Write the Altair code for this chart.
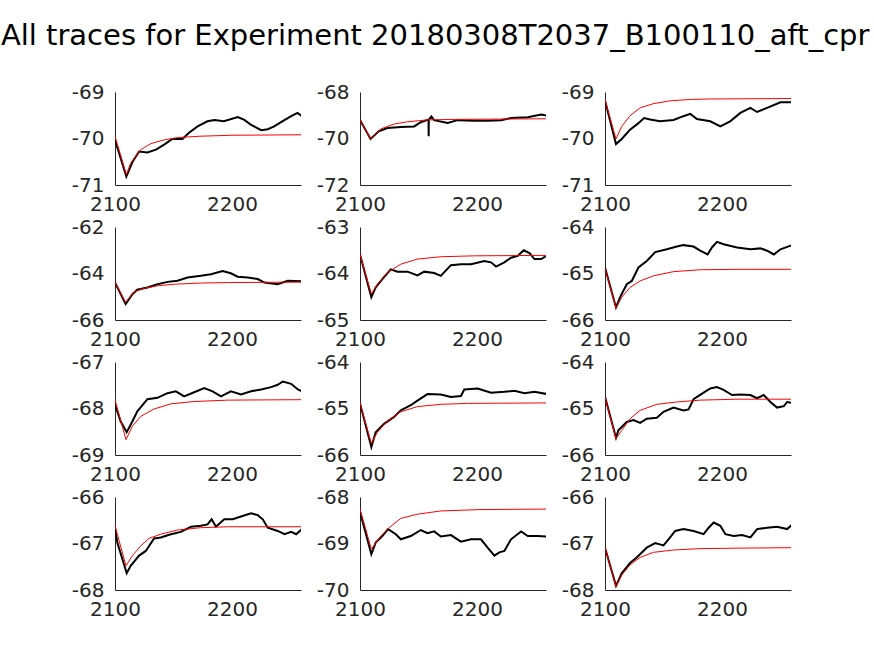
import altair as alt
import pandas as pd

TITLE = "All traces for Experiment 20180308T2037_B100110_aft_cpr"

# ---------- panel 1 (row 1, col 1) ----------
t1 = [2100, 2109.7, 2115, 2120.6, 2127.7, 2135, 2142, 2149, 2157.7, 2163, 2170.6, 2179, 2185, 2193, 2205, 2210.6, 2216, 2225, 2230.6, 2236, 2243, 2250.6, 2256, 2259.7]
v1 = [-70.03, -70.82, -70.5, -70.28, -70.3, -70.24, -70.13, -70.01, -70.01, -69.88, -69.74, -69.63, -69.6, -69.63, -69.54, -69.6, -69.7, -69.82, -69.8, -69.74, -69.63, -69.52, -69.45, -69.52]
ft1 = [2100, 2109.7, 2113.4, 2122, 2130.6, 2142, 2153.4, 2173.4, 2200, 2260]
fv1 = [-69.95, -70.78, -70.53, -70.24, -70.11, -70.03, -69.98, -69.95, -69.93, -69.92]

# ---------- panel 2 (row 1, col 2) ----------
t2 = [2100, 2109, 2116, 2123.4, 2134.9, 2146.3, 2152, 2157.7, 2158.6, 2158.7, 2158.8, 2161, 2163.4, 2174.9, 2183.4, 2197.7, 2209, 2220.6, 2229, 2243.4, 2254.9, 2260]
v2 = [-69.2, -70.02, -69.69, -69.55, -69.51, -69.48, -69.3, -69.2, -69.2, -69.9, -69.2, -69.05, -69.21, -69.33, -69.21, -69.24, -69.24, -69.21, -69.12, -69.09, -68.97, -69.02]
ft2 = [2100, 2109, 2117.7, 2129, 2140.6, 2157.7, 2177.7, 2260]
fv2 = [-69.2, -70.02, -69.59, -69.38, -69.28, -69.2, -69.18, -69.15]

# ---------- panel 3 (row 1, col 3) ----------
t3 = [2100, 2109.4, 2114.3, 2121.4, 2128.6, 2133.4, 2138.6, 2147, 2158.6, 2167, 2172.9, 2178.6, 2190, 2198.6, 2207, 2215.7, 2224.3, 2230, 2238.6, 2250, 2260]
v3 = [-69.18, -70.12, -70.01, -69.81, -69.67, -69.56, -69.59, -69.63, -69.6, -69.52, -69.47, -69.58, -69.63, -69.74, -69.63, -69.45, -69.34, -69.43, -69.34, -69.22, -69.22]
ft3 = [2100, 2109.4, 2114.3, 2121.4, 2130, 2141.4, 2155.7, 2172.9, 2190, 2260]
fv3 = [-69.17, -70.01, -69.74, -69.51, -69.34, -69.25, -69.19, -69.16, -69.15, -69.14]

# ---------- panel 4 (row 2, col 1) ----------
t4 = [2100, 2109.1, 2114.9, 2119, 2127.7, 2136.3, 2144.9, 2153.4, 2162, 2173.4, 2182, 2192, 2199, 2204.9, 2213.4, 2222, 2227.7, 2239, 2247.7, 2259.7]
v4 = [-64.39, -65.31, -64.89, -64.7, -64.6, -64.46, -64.36, -64.31, -64.17, -64.1, -64.03, -63.89, -63.99, -64.14, -64.17, -64.24, -64.39, -64.46, -64.31, -64.34]
ft4 = [2100, 2109.1, 2116.3, 2124.9, 2136.3, 2150.6, 2173.4, 2196.3, 2260]
fv4 = [-64.39, -65.24, -64.79, -64.64, -64.53, -64.46, -64.41, -64.39, -64.37]

# ---------- panel 5 (row 2, col 2) ----------
t5 = [2100, 2109.7, 2113.4, 2119.1, 2126.3, 2132, 2140.6, 2149.1, 2154.9, 2163.4, 2169.1, 2177.7, 2186.3, 2194.9, 2206.3, 2212, 2216.3, 2223.4, 2229.1, 2234.9, 2240, 2244.9, 2249.1, 2254.9, 2260]
v5 = [-63.59, -64.51, -64.3, -64.12, -63.91, -63.96, -63.96, -64.04, -63.96, -63.99, -64.05, -63.82, -63.8, -63.8, -63.73, -63.76, -63.85, -63.76, -63.66, -63.62, -63.5, -63.56, -63.69, -63.69, -63.61]
ft5 = [2100, 2109.7, 2114.9, 2123.4, 2134.9, 2149.1, 2169.1, 2197.7, 2260]
fv5 = [-63.59, -64.44, -64.23, -63.98, -63.8, -63.69, -63.64, -63.62, -63.61]

# ---------- panel 6 (row 2, col 3) ----------
t6 = [2100, 2109.4, 2112.9, 2118.6, 2122.9, 2128.6, 2135.7, 2142.9, 2152.9, 2161.4, 2167.1, 2175.7, 2181.4, 2187.7, 2191.4, 2195.7, 2201.4, 2212.9, 2224.3, 2232.9, 2238.6, 2244.3, 2250, 2260]
v6 = [-64.87, -65.73, -65.51, -65.23, -65.16, -64.87, -64.73, -64.54, -64.48, -64.42, -64.39, -64.42, -64.51, -64.59, -64.44, -64.32, -64.37, -64.44, -64.48, -64.46, -64.51, -64.59, -64.48, -64.39]
ft6 = [2100, 2109.4, 2114.3, 2121.4, 2130, 2141.4, 2158.6, 2181.4, 2212.9, 2260]
fv6 = [-64.89, -65.75, -65.51, -65.3, -65.16, -65.05, -64.96, -64.92, -64.91, -64.91]

# ---------- panel 7 (row 3, col 1) ----------
t7 = [2100, 2104.9, 2110, 2113.4, 2119.1, 2127.7, 2136.3, 2144.9, 2152, 2159.1, 2167.7, 2176.3, 2183.4, 2190.6, 2199.1, 2207.7, 2216.3, 2224.9, 2233.4, 2239.1, 2243.4, 2250.6, 2256.3, 2259.7]
v7 = [-67.92, -68.28, -68.51, -68.35, -68.06, -67.8, -67.77, -67.67, -67.63, -67.74, -67.65, -67.56, -67.63, -67.74, -67.63, -67.7, -67.63, -67.59, -67.54, -67.49, -67.42, -67.47, -67.59, -67.63]
ft7 = [2100, 2109.4, 2114.9, 2122, 2133.4, 2147.7, 2167.7, 2196.3, 2260]
fv7 = [-67.81, -68.67, -68.38, -68.17, -68.01, -67.9, -67.85, -67.82, -67.81]

# ---------- panel 8 (row 3, col 2) ----------
t8 = [2100, 2109.7, 2113.4, 2120.6, 2129.1, 2134.9, 2143.4, 2149.1, 2157.7, 2169.1, 2177.7, 2186.3, 2189.1, 2200.6, 2212, 2223.4, 2232, 2240.6, 2249.1, 2260]
v8 = [-64.89, -65.83, -65.51, -65.33, -65.18, -65.04, -64.93, -64.83, -64.69, -64.7, -64.75, -64.73, -64.59, -64.57, -64.66, -64.64, -64.62, -64.67, -64.64, -64.69]
ft8 = [2100, 2109.7, 2114.9, 2123.4, 2134.9, 2149.1, 2169.1, 2192, 2260]
fv8 = [-64.88, -65.75, -65.51, -65.27, -65.07, -64.96, -64.91, -64.89, -64.88]

# ---------- panel 9 (row 3, col 3) ----------
t9 = [2100, 2109.4, 2111.4, 2118.6, 2124.3, 2130, 2135.7, 2144.3, 2150, 2158.6, 2167.1, 2171.4, 2175.7, 2184.3, 2190, 2195.7, 2201.4, 2208.6, 2215.7, 2224.3, 2230, 2235.7, 2241.4, 2247.1, 2252.9, 2255.7, 2260]
v9 = [-64.75, -65.63, -65.47, -65.29, -65.25, -65.31, -65.22, -65.2, -65.07, -64.98, -65.04, -65.02, -64.8, -64.66, -64.57, -64.54, -64.6, -64.71, -64.7, -64.71, -64.78, -64.71, -64.86, -64.98, -64.95, -64.86, -64.88]
ft9 = [2100, 2109.4, 2114.3, 2121.4, 2130, 2144.3, 2161.4, 2181.4, 2212.9, 2260]
fv9 = [-64.76, -65.65, -65.47, -65.22, -65.04, -64.91, -64.86, -64.82, -64.8, -64.8]

# ---------- panel 10 (row 4, col 1) ----------
t10 = [2100, 2102, 2110, 2113.4, 2120.6, 2126.3, 2133.4, 2139.1, 2147.7, 2156.3, 2164.9, 2173.4, 2179.1, 2182.6, 2186.3, 2193.4, 2200.6, 2207.7, 2216.3, 2222, 2226.3, 2230.6, 2239.1, 2244.9, 2250.6, 2254.9, 2259.7]
v10 = [-66.66, -66.98, -67.64, -67.48, -67.26, -67.16, -66.89, -66.87, -66.8, -66.75, -66.64, -66.62, -66.59, -66.48, -66.64, -66.48, -66.48, -66.42, -66.35, -66.39, -66.48, -66.66, -66.73, -66.8, -66.75, -66.8, -66.69]
ft10 = [2100, 2109.4, 2114.9, 2122, 2129.1, 2139.1, 2153.4, 2173.4, 2196.3, 2260]
fv10 = [-66.62, -67.48, -67.26, -67.05, -66.89, -66.8, -66.71, -66.66, -66.64, -66.64]

# ---------- panel 11 (row 4, col 2) ----------
t11 = [2100, 2109.7, 2113.4, 2119.1, 2124, 2130.6, 2134.9, 2143.4, 2152, 2157.7, 2163.4, 2169.1, 2177.7, 2186.3, 2194.9, 2203.4, 2209.1, 2214.9, 2219.1, 2223.4, 2229.1, 2237.7, 2243.4, 2252, 2260]
v11 = [-68.32, -69.23, -68.98, -68.84, -68.69, -68.8, -68.91, -68.84, -68.71, -68.78, -68.74, -68.85, -68.82, -68.96, -68.91, -68.91, -69.09, -69.26, -69.19, -69.16, -68.91, -68.74, -68.84, -68.84, -68.85]
ft11 = [2100, 2109.7, 2117.7, 2124.9, 2134.9, 2149.1, 2169.1, 2203.4, 2260]
fv11 = [-68.26, -69.12, -68.84, -68.66, -68.46, -68.37, -68.3, -68.27, -68.26]

# ---------- panel 12 (row 4, col 3) ----------
t12 = [2100, 2109.4, 2114.3, 2121.4, 2127.1, 2135.7, 2142.9, 2150, 2154.3, 2160, 2167.1, 2175.7, 2184.3, 2188.6, 2192.9, 2198.6, 2202.9, 2210, 2217.1, 2224.3, 2230, 2238.6, 2247.1, 2255.7, 2260]
v12 = [-67.09, -67.91, -67.64, -67.42, -67.3, -67.09, -66.99, -67.04, -66.91, -66.73, -66.69, -66.73, -66.8, -66.66, -66.55, -66.62, -66.8, -66.84, -66.82, -66.87, -66.69, -66.66, -66.64, -66.69, -66.59]
ft12 = [2100, 2109.4, 2114.3, 2121.4, 2130, 2141.4, 2158.6, 2181.4, 2212.9, 2260]
fv12 = [-67.09, -67.93, -67.68, -67.46, -67.3, -67.19, -67.14, -67.11, -67.1, -67.09]

# y-axis ranges (bottom, top) per panel
y_ranges = [(-71, -69), (-72, -68), (-71, -69),
            (-66, -62), (-65, -63), (-66, -64),
            (-69, -67), (-66, -64), (-66, -64),
            (-68, -66), (-70, -68), (-68, -66)]
x_ticks = [2100, 2200]

traces = [(t1, v1), (t2, v2), (t3, v3), (t4, v4), (t5, v5), (t6, v6),
          (t7, v7), (t8, v8), (t9, v9), (t10, v10), (t11, v11), (t12, v12)]
fits = [(ft1, fv1), (ft2, fv2), (ft3, fv3), (ft4, fv4), (ft5, fv5), (ft6, fv6),
        (ft7, fv7), (ft8, fv8), (ft9, fv9), (ft10, fv10), (ft11, fv11), (ft12, fv12)]

FONT = "DejaVu Sans"
TXT = "#262626"
W, H = 186, 93
LFS = 20


def panel(i):
    lo, hi = y_ranges[i]
    mid = (lo + hi) / 2
    tr = pd.DataFrame({"t": traces[i][0], "v": traces[i][1]})
    ft = pd.DataFrame({"t": fits[i][0], "v": fits[i][1]})
    xenc = alt.X("t:Q", scale=alt.Scale(domain=[2100, 2259], nice=False, zero=False),
                 axis=alt.Axis(values=x_ticks, title=None, ticks=False, grid=False,
                               labelFontSize=LFS, labelFont=FONT, labelColor=TXT,
                               labelPadding=9, labelFlush=False, labelOverlap=False,
                               domainColor=TXT, domainWidth=1,
                               labelExpr="'' + datum.value"))
    yenc = alt.Y("v:Q", scale=alt.Scale(domain=[lo, hi], nice=False, zero=False),
                 axis=alt.Axis(values=[lo, mid, hi], title=None, ticks=False, grid=False,
                               labelFontSize=LFS, labelFont=FONT, labelColor=TXT,
                               labelPadding=11, labelFlush=False, labelOverlap=False,
                               domainColor=TXT, domainWidth=1,
                               labelExpr="'' + datum.value"))
    black = alt.Chart(tr).mark_line(color="black", strokeWidth=2, clip=True).encode(x=xenc, y=yenc)
    red = alt.Chart(ft).mark_line(color="red", strokeWidth=1, clip=True).encode(x=xenc, y=yenc)
    return alt.layer(black, red).properties(width=W, height=H)


chart = alt.concat(*[panel(i) for i in range(12)], columns=3,
                   spacing={"row": 42, "column": 59}, bounds="flush").properties(
    title=alt.TitleParams(TITLE, fontSize=29, font=FONT, fontWeight="normal", color="black",
                          anchor="middle", dx=4, offset=8, baseline="alphabetic"),
    padding={"left": 0, "top": 22, "right": 0, "bottom": 0},
    background="white",
).configure_view(stroke=None, strokeWidth=0).configure_axis(grid=False)

chart.save("out.html", embed_options={"renderer": "svg", "actions": False})
